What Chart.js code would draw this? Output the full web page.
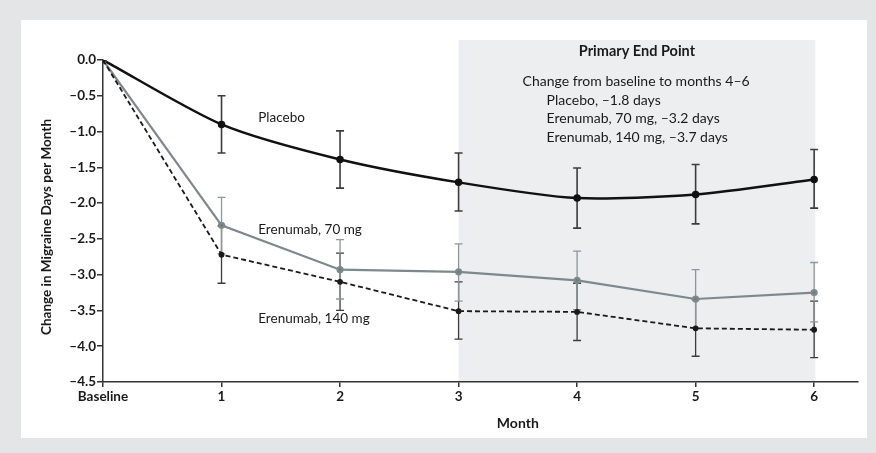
<!DOCTYPE html>
<html lang="en">
<head>
    <meta charset="UTF-8">
    <title>Change in Migraine Days per Month</title>
    <script src="https://cdn.jsdelivr.net/npm/chart.js"></script>
    <style>
        html, body {
            margin: 0;
            padding: 0;
            background: #e3e5e7;
        }

        .container {
            position: relative;
            width: 876px;
            height: 453px;
        }
    </style>
</head>
<body>
    <div class="container">
        <canvas id="chartCanvas" width="876" height="453"></canvas>
    </div>

    <script>
        // values
        const months = [0, 1, 2, 3, 4, 5, 6];
        const yTicks = [0, -0.5, -1, -1.5, -2, -2.5, -3, -3.5, -4, -4.5];

        const placebo = [0, -0.90, -1.39, -1.71, -1.93, -1.88, -1.67];
        const placeboLow = [null, -1.30, -1.79, -2.11, -2.35, -2.29, -2.07];
        const placeboHigh = [null, -0.50, -0.99, -1.30, -1.51, -1.46, -1.25];

        const ere70 = [0, -2.31, -2.93, -2.96, -3.08, -3.34, -3.25];
        const ere70Low = [null, -2.71, -3.34, -3.37, -3.49, -3.75, -3.66];
        const ere70High = [null, -1.92, -2.51, -2.57, -2.67, -2.93, -2.83];

        const ere140 = [0, -2.72, -3.10, -3.51, -3.52, -3.75, -3.77];
        const ere140Low = [null, -3.12, -3.50, -3.90, -3.92, -4.14, -4.16];
        const ere140High = [null, -2.32, -2.70, -3.10, -3.12, -3.35, -3.37];

        const seriesLabels = ['Placebo', 'Erenumab, 70 mg', 'Erenumab, 140 mg'];
        const endPointTitle = 'Primary End Point';
        const endPointLines = [
            'Change from baseline to months 4\u20136',
            'Placebo, \u20131.8 days',
            'Erenumab, 70 mg, \u20133.2 days',
            'Erenumab, 140 mg, \u20133.7 days'
        ];

        const FONT = 'Lato, "Open Sans", sans-serif';
        const chartCanvas = document.getElementById('chartCanvas');

        function toPoints(values) {
            return months.map((m, i) => ({ x: m, y: values[i] }));
        }

        function minus(text) {
            return text.replace('-', '\u2013');
        }

        const figurePlugin = {
            id: 'figure',
            beforeDraw(chart) {
                const ctx = chart.ctx;
                ctx.save();
                ctx.fillStyle = '#e3e5e7';
                ctx.fillRect(0, 0, chart.width, chart.height);
                ctx.fillStyle = '#ffffff';
                ctx.fillRect(21, 20, 846, 418);

                // primary end point shading, months 3 to 6
                const x = chart.scales.x;
                const y = chart.scales.y;
                const left = x.getPixelForValue(3);
                const right = x.getPixelForValue(6.01);
                const top = y.getPixelForValue(0.28);
                ctx.fillStyle = '#eceef0';
                ctx.fillRect(left, top, right - left, y.bottom - top);

                ctx.fillStyle = '#1a1a1a';
                ctx.textBaseline = 'middle';
                ctx.textAlign = 'center';
                ctx.font = 'bold 14.5px ' + FONT;
                ctx.fillText(endPointTitle, (left + right) / 2, top + 11);
                ctx.font = '14px ' + FONT;
                ctx.textAlign = 'left';
                const textLeft = x.getPixelForValue(3.54);
                endPointLines.forEach((line, i) => {
                    const indent = i === 0 ? 0 : 24;
                    ctx.fillText(line, textLeft + indent, top + 42 + i * 18.5);
                });
                ctx.restore();
            },
            beforeDatasetsDraw(chart) {
                const ctx = chart.ctx;
                const x = chart.scales.x;
                const y = chart.scales.y;
                const bars = [
                    { low: ere140Low, high: ere140High, color: '#3c3c3c', width: 1.3 },
                    { low: ere70Low, high: ere70High, color: '#8d9699', width: 1.3 },
                    { low: placeboLow, high: placeboHigh, color: '#3c3c3c', width: 1.6 }
                ];
                ctx.save();
                bars.forEach(bar => {
                    ctx.strokeStyle = bar.color;
                    ctx.lineWidth = bar.width;
                    months.forEach((m, i) => {
                        if (bar.low[i] === null) return;
                        const px = x.getPixelForValue(m);
                        const p1 = y.getPixelForValue(bar.low[i]);
                        const p2 = y.getPixelForValue(bar.high[i]);
                        ctx.beginPath();
                        ctx.moveTo(px, p1);
                        ctx.lineTo(px, p2);
                        ctx.moveTo(px - 4, p1);
                        ctx.lineTo(px + 4, p1);
                        ctx.moveTo(px - 4, p2);
                        ctx.lineTo(px + 4, p2);
                        ctx.stroke();
                    });
                });
                ctx.restore();
            },
            afterDraw(chart) {
                const ctx = chart.ctx;
                const x = chart.scales.x;
                const y = chart.scales.y;
                ctx.save();
                ctx.fillStyle = '#1a1a1a';
                ctx.textBaseline = 'middle';
                ctx.textAlign = 'left';
                ctx.font = '13.5px ' + FONT;
                const labelY = [-0.80, -2.37, -3.61];
                seriesLabels.forEach((label, i) => {
                    ctx.fillText(label, x.getPixelForValue(1.31), y.getPixelForValue(labelY[i]));
                });

                // axis titles
                ctx.font = 'bold 14px ' + FONT;
                ctx.textAlign = 'center';
                ctx.fillText('Month', x.getPixelForValue(3.5), 423);
                ctx.font = 'bold 13.5px ' + FONT;
                ctx.translate(47, (y.top + y.bottom) / 2 + 6);
                ctx.rotate(-Math.PI / 2);
                ctx.fillText('Change in Migraine Days per Month', 0, 0);
                ctx.restore();
            }
        };

        const axisColor = '#333333';

        new Chart(chartCanvas, {
            type: 'line',
            data: {
                datasets: [
                    {
                        label: seriesLabels[2],
                        data: toPoints(ere140),
                        borderColor: '#1a1a1a',
                        backgroundColor: '#1a1a1a',
                        borderWidth: 1.8,
                        borderDash: [5, 3],
                        pointRadius: 2,
                        tension: 0
                    },
                    {
                        label: seriesLabels[1],
                        data: toPoints(ere70),
                        borderColor: '#7d898d',
                        backgroundColor: '#6f7b80',
                        borderWidth: 2.2,
                        pointRadius: 2.5,
                        tension: 0
                    },
                    {
                        label: seriesLabels[0],
                        data: toPoints(placebo),
                        borderColor: '#111111',
                        backgroundColor: '#111111',
                        borderWidth: 2.5,
                        pointRadius: 2.5,
                        tension: 0.25
                    }
                ]
            },
            options: {
                responsive: false,
                animation: false,
                layout: {
                    padding: { left: 21, top: 60, right: 18, bottom: 15 }
                },
                plugins: {
                    legend: { display: false },
                    tooltip: { enabled: false }
                },
                scales: {
                    x: {
                        type: 'linear',
                        min: 0,
                        max: 6.37,
                        afterBuildTicks: scale => {
                            scale.ticks = months.map(v => ({ value: v }));
                        },
                        afterFit: scale => {
                            scale.height = 56;
                        },
                        ticks: {
                            color: '#1a1a1a',
                            font: { family: FONT, size: 13.5, weight: 'bold' },
                            padding: 2,
                            maxRotation: 0,
                            autoSkip: false,
                            callback: value => value === 0 ? 'Baseline' : String(value)
                        },
                        grid: {
                            drawOnChartArea: false,
                            drawTicks: true,
                            tickLength: 5,
                            color: axisColor,
                            lineWidth: 1.5
                        },
                        border: { display: true, color: axisColor, width: 1.5 }
                    },
                    y: {
                        type: 'linear',
                        min: -4.5,
                        max: 0,
                        afterBuildTicks: scale => {
                            scale.ticks = yTicks.map(v => ({ value: v }));
                        },
                        afterFit: scale => {
                            scale.width = 82;
                        },
                        ticks: {
                            color: '#1a1a1a',
                            font: { family: FONT, size: 13.5, weight: 'bold' },
                            padding: 1,
                            autoSkip: false,
                            callback: value => minus(value.toFixed(1))
                        },
                        grid: {
                            drawOnChartArea: false,
                            drawTicks: true,
                            tickLength: 6,
                            color: axisColor,
                            lineWidth: 1.5
                        },
                        border: { display: true, color: axisColor, width: 1.5 }
                    }
                }
            },
            plugins: [figurePlugin]
        });
    </script>
</body>
</html>
